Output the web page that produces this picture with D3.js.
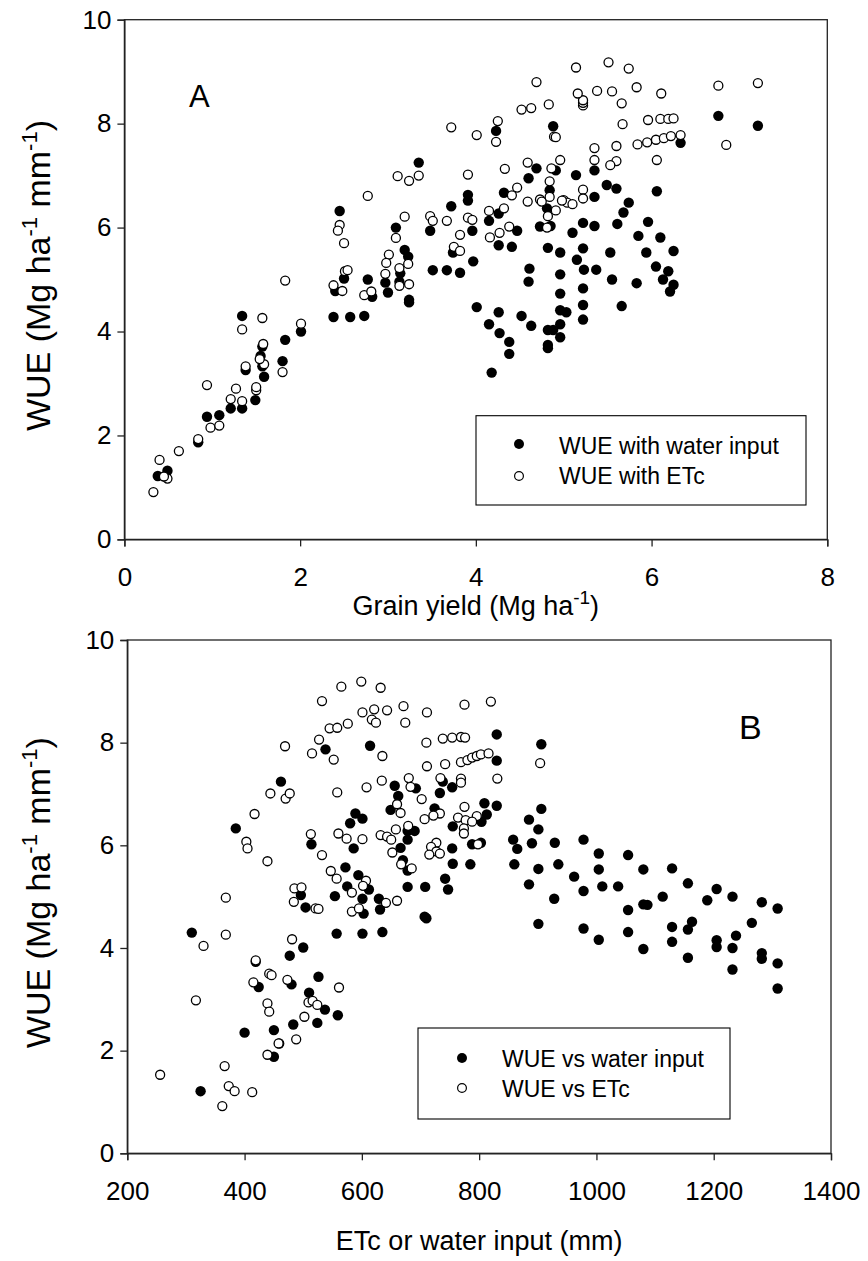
<!DOCTYPE html>
<html>
<head>
<meta charset="utf-8">
<script src="https://cdn.jsdelivr.net/npm/d3@7"></script>
<style>
  body { margin: 0; background: #fff; }
  text { font-family: "Liberation Sans", Arial, sans-serif; fill: #000; }
</style>
</head>
<body>
<script>
// ---- panel A: WUE vs grain yield (Mg ha-1) ----
var a_water_input = [
  [0.38,1.22],[0.49,1.32],[0.84,1.87],[0.94,2.36],[1.08,2.39],[1.21,2.52],[1.34,2.52],[1.34,4.30],
  [1.38,3.26],[1.49,2.68],[1.59,3.13],[1.57,3.33],[1.55,3.53],[1.57,3.71],[1.80,3.43],[1.83,3.84],
  [2.01,4.00],[2.45,6.32],[2.50,5.02],[2.40,4.78],[2.38,4.28],[2.57,4.28],
  [3.35,7.25],[3.09,6.00],[3.19,5.57],[3.23,5.44],[3.14,5.12],[3.13,4.96],[2.97,4.94],[3.00,4.75],
  [3.24,4.61],[3.24,4.56],[2.77,5.00],[2.82,4.67],[2.73,4.30],[3.51,5.18],[3.67,5.18],[3.82,5.13],
  [3.97,5.35],[3.48,5.94],[3.72,6.41],[3.74,5.52],[3.91,6.63],[3.91,6.52],[3.96,5.94],[4.01,4.47],
  [4.23,7.86],[4.15,6.13],[4.26,6.27],[4.32,6.67],[4.26,5.66],[4.47,5.94],[4.41,5.63],[4.26,4.37],
  [4.15,4.14],[4.27,3.97],[4.38,3.80],[4.38,3.57],[4.18,3.21],[4.52,4.30],[4.63,4.11],[4.61,5.21],
  [4.60,4.96],[4.60,6.95],[4.69,7.14],[4.88,7.95],[4.91,7.10],[5.14,7.01],[4.84,6.72],[4.81,6.37],
  [4.73,6.02],[4.85,6.03],[5.10,5.90],[4.82,5.61],[4.96,5.52],[4.96,5.10],[4.96,4.73],[4.96,4.41],
  [5.03,4.37],[4.96,4.14],[4.96,3.89],[4.82,4.03],[4.88,4.03],[4.82,3.74],[4.82,3.68],[5.15,5.38],
  [5.22,5.60],[5.22,6.09],[5.35,6.03],[5.35,6.59],[5.23,5.19],[5.37,5.19],[5.22,4.83],[5.22,4.51],
  [5.22,4.23],[5.35,7.10],[5.49,6.82],[5.60,6.75],[6.76,8.15],[7.21,7.96],[6.33,7.63],[6.06,6.70],
  [5.74,6.48],[5.68,6.29],[5.61,6.07],[5.96,6.11],[5.85,5.84],[6.10,5.81],[6.25,5.55],[5.94,5.52],
  [5.53,5.52],[6.05,5.25],[6.19,5.16],[6.13,5.00],[6.25,4.90],[6.21,4.77],[5.55,5.00],[5.83,4.93],
  [5.66,4.49]
];
var a_etc = [
  [0.33,0.91],[0.40,1.53],[0.49,1.17],[0.45,1.21],[0.62,1.70],[0.84,1.93],[0.98,2.15],[1.08,2.19],
  [0.94,2.97],[1.21,2.70],[1.27,2.90],[1.34,2.66],[1.34,4.04],[1.57,4.26],[1.38,3.33],[1.50,2.87],
  [1.50,2.93],[1.59,3.37],[1.54,3.47],[1.58,3.76],[1.80,3.22],[1.83,4.98],[2.01,4.15],[2.45,6.05],
  [2.43,5.94],[2.50,5.70],[2.51,5.16],[2.54,5.18],[2.38,4.89],[2.48,4.78],
  [2.77,6.61],[3.11,6.99],[3.24,6.90],[3.35,7.00],[3.19,6.21],[3.09,5.80],[3.23,5.30],[3.01,5.48],
  [2.98,5.32],[2.97,5.11],[3.13,5.22],[3.13,4.88],[3.24,4.91],[2.73,4.70],[2.81,4.77],[3.48,6.22],
  [3.51,6.13],[3.67,6.13],[3.82,5.86],[3.75,5.63],[3.82,5.55],[3.91,6.19],[3.96,6.15],[3.91,7.02],
  [3.72,7.93],[4.01,7.78],[4.25,8.05],[4.23,7.65],[4.15,6.32],[4.32,6.37],[4.47,6.77],[4.41,6.62],
  [4.33,7.13],[4.16,5.81],[4.27,5.90],[4.38,6.02],[4.59,6.50],[4.59,7.25],[4.52,8.27],[4.63,8.30],
  [4.83,8.37],[4.89,7.75],[4.91,7.74],[5.22,8.35],[5.22,8.40],[5.22,8.45],[4.96,7.30],[4.86,7.14],
  [4.84,6.89],[4.73,6.54],[4.75,6.50],[4.84,6.59],[4.82,6.22],[4.91,6.33],[4.81,6.00],[5.00,6.53],
  [5.04,6.48],[5.10,6.45],[5.22,6.73],[5.22,6.56],[5.35,7.53],[5.35,7.30],
  [5.51,9.18],[5.14,9.08],[5.74,9.06],[4.69,8.80],[5.83,8.70],[5.55,8.62],[5.38,8.63],[5.16,8.58],
  [5.66,8.39],[6.11,8.58],[6.76,8.73],[7.21,8.78],[6.85,7.59],[5.67,7.99],[5.96,8.07],[6.10,8.09],
  [6.19,8.09],[6.25,8.10],[5.84,7.60],[5.95,7.64],[6.05,7.69],[6.14,7.72],[6.22,7.76],[6.33,7.78],
  [5.60,7.57],[6.06,7.30],[5.60,7.28],[5.53,7.20],[4.98,6.52]
];

// ---- panel B: WUE vs ETc or water input (mm) ----
var b_water_input = [
  [325,1.21],[310,4.30],[400,2.35],[385,6.33],[462,7.24],[477,3.85],[500,4.01],[450,2.40],
  [450,1.88],[483,2.51],[480,3.29],[424,3.24],[510,3.13],[526,3.44],[537,2.80],[524,2.54],
  [559,2.69],[496,5.03],[504,4.79],[514,6.02],[554,5.01],[557,4.28],[572,5.57],[586,5.94],
  [580,6.43],[589,6.62],[575,5.20],[594,5.42],[419,3.73],[459,2.14],
  [538,7.87],[614,7.94],[830,8.16],[830,7.65],[830,6.77],[656,7.16],[662,6.96],[692,7.11],
  [649,6.69],[733,7.02],[754,7.13],[738,7.24],[724,6.72],[809,6.82],[813,6.60],[804,6.46],
  [755,6.37],[601,6.52],[678,6.11],[690,6.28],[678,6.28],[666,5.95],[670,5.71],[678,5.51],
  [754,5.94],[788,6.02],[803,6.05],[755,5.64],[785,5.63],[742,5.35],[747,5.14],[708,5.19],
  [678,5.19],[707,4.61],[710,4.58],[612,5.14],[601,4.96],[629,4.96],[603,4.67],[631,4.75],
  [601,4.28],[635,4.31],
  [906,7.97],[906,6.71],[885,6.50],[901,6.31],[858,6.11],[865,5.93],[890,6.04],[929,6.05],
  [978,6.11],[860,5.63],[901,5.54],[935,5.63],[885,5.24],[928,4.96],[901,4.47],[962,5.39],
  [978,5.11],[1004,5.84],[1004,5.53],[1010,5.20],[1037,5.20],[978,4.38],[1004,4.16],[1054,5.81],
  [1054,4.74],[1054,4.31],[1080,5.53],[1080,4.85],[1087,4.84],[1080,3.98],[1113,5.00],[1129,5.55],
  [1129,4.41],[1129,4.12],[1156,5.26],[1163,4.51],[1156,4.36],[1156,3.81],[1189,4.93],[1205,5.15],
  [1205,4.15],[1205,4.02],[1232,5.00],[1238,4.24],[1232,4.00],[1232,3.58],[1265,4.49],[1282,4.89],
  [1282,3.90],[1282,3.79],[1309,4.77],[1309,3.70],[1309,3.21]
];
var b_etc = [
  [256,1.53],[317,2.98],[330,4.04],[368,4.26],[368,4.98],[366,1.70],[362,0.92],[373,1.31],
  [383,1.21],[413,1.19],[403,6.07],[405,5.94],[417,6.61],[444,7.01],[470,6.91],[477,7.01],
  [558,7.03],[439,5.69],[485,5.16],[497,5.18],[484,4.90],[521,4.77],[526,4.76],[513,6.22],
  [532,5.81],[547,5.50],[557,5.35],[560,6.23],[574,6.13],[583,5.08],[583,4.71],[595,4.77],
  [481,4.17],[419,3.76],[442,3.50],[446,3.47],[415,3.33],[473,3.38],[439,2.92],[442,2.76],
  [509,2.94],[516,2.97],[524,2.89],[561,3.23],[502,2.66],[458,2.14],[488,2.22],[439,1.92],
  [599,9.19],[565,9.09],[632,9.07],[532,8.81],[601,8.59],[621,8.65],[643,8.63],[617,8.45],
  [624,8.39],[671,8.71],[674,8.39],[711,8.59],[775,8.74],[820,8.80],[545,8.28],[558,8.29],
  [576,8.37],[527,8.06],[469,7.93],[515,7.79],[552,7.67],[635,7.74],[710,8.00],[738,8.08],
  [754,8.10],[769,8.11],[776,8.10],[769,7.62],[780,7.66],[788,7.71],[796,7.74],[803,7.77],
  [816,7.79],[711,7.54],[742,7.58],[831,7.30],[769,7.30],[769,7.22],[734,7.31],[634,7.26],
  [608,7.13],[680,7.31],[683,7.14],[702,6.90],[660,6.80],[666,6.63],[775,6.75],[733,6.62],
  [722,6.58],[707,6.51],[764,6.54],[777,6.49],[796,6.57],[788,6.46],[774,6.33],[774,6.23],
  [798,6.02],[727,6.05],[718,5.97],[727,5.88],[715,5.82],[733,5.84],[679,6.38],[658,6.31],
  [632,6.20],[643,6.17],[650,6.11],[601,6.12],[652,5.86],[667,5.63],[685,5.55],[607,5.31],
  [602,5.21],[641,4.88],[660,4.92],[904,7.60]
];

var a_xticks = [0, 2, 4, 6, 8];
var b_xticks = [200, 400, 600, 800, 1000, 1200, 1400];
var yticks = [0, 2, 4, 6, 8, 10];

var width = 868, height = 1261;
var svg = d3.select('body').append('svg').attr('width', width).attr('height', height);

function panel(cfg) {
  var x = d3.scaleLinear().domain(cfg.xdom).range([cfg.left, cfg.right]);
  var y = d3.scaleLinear().domain([0, 10]).range([cfg.bottom, cfg.top]);
  var g = svg.append('g');

  // frame
  g.append('rect').attr('x', cfg.left).attr('y', cfg.top)
    .attr('width', cfg.right - cfg.left).attr('height', cfg.bottom - cfg.top)
    .attr('fill', 'none').attr('stroke', '#222').attr('stroke-width', 1.3);

  var xa = g.append('g').attr('transform', 'translate(0,' + cfg.bottom + ')')
    .call(d3.axisBottom(x).tickValues(cfg.xticks).tickSize(7).tickPadding(21).tickFormat(d3.format('d')));
  var ya = g.append('g').attr('transform', 'translate(' + cfg.left + ',0)')
    .call(d3.axisLeft(y).tickValues(yticks).tickSize(7).tickPadding(6).tickFormat(d3.format('d')));
  [xa, ya].forEach(function(a) {
    a.select('.domain').attr('stroke', '#222').attr('stroke-width', 1.3);
    a.selectAll('.tick line').attr('stroke', '#222').attr('stroke-width', 1.3);
    a.selectAll('.tick text').attr('font-size', 26).attr('font-family', '"Liberation Sans", Arial, sans-serif').attr('fill', '#000');
  });

  // points: filled first, open on top
  g.append('g').selectAll('circle').data(cfg.filled).enter().append('circle')
    .attr('cx', function(d) { return x(d[0]); }).attr('cy', function(d) { return y(d[1]); })
    .attr('r', 5.2).attr('fill', '#000');
  g.append('g').selectAll('circle').data(cfg.open).enter().append('circle')
    .attr('cx', function(d) { return x(d[0]); }).attr('cy', function(d) { return y(d[1]); })
    .attr('r', 4.5).attr('fill', '#fff').attr('stroke', '#000').attr('stroke-width', 1.3);

  // panel letter
  g.append('text').attr('x', cfg.letter[0]).attr('y', cfg.letter[1])
    .attr('font-size', cfg.letter[2]).text(cfg.name);

  // legend
  var L = cfg.legend;
  g.append('rect').attr('x', L.x0).attr('y', L.y0).attr('width', L.x1 - L.x0).attr('height', L.y1 - L.y0)
    .attr('fill', '#fff').attr('stroke', '#000').attr('stroke-width', 1.1);
  g.append('circle').attr('cx', L.sx).attr('cy', L.sy[0]).attr('r', 5).attr('fill', '#000');
  g.append('circle').attr('cx', L.sx).attr('cy', L.sy[1]).attr('r', 4.4)
    .attr('fill', '#fff').attr('stroke', '#000').attr('stroke-width', 1.2);
  g.append('text').attr('x', L.tx).attr('y', L.ty[0]).attr('font-size', 23).text(L.labels[0]);
  g.append('text').attr('x', L.tx).attr('y', L.ty[1]).attr('font-size', 23).text(L.labels[1]);

  // y title
  var yt = g.append('text')
    .attr('transform', 'translate(' + cfg.ytitleX + ',' + ((cfg.top + cfg.bottom) / 2 - 4) + ') rotate(-90)')
    .attr('text-anchor', 'middle').attr('font-size', 34);
  yt.append('tspan').text('WUE (Mg ha');
  yt.append('tspan').attr('font-size', 22).attr('dy', -13).text('-1');
  yt.append('tspan').attr('dy', 13).text(' mm');
  yt.append('tspan').attr('font-size', 22).attr('dy', -13).text('-1');
  yt.append('tspan').attr('dy', 13).text(')');

  // x title
  var xt = g.append('text').attr('x', (cfg.left + cfg.right) / 2).attr('y', cfg.xtitleY)
    .attr('text-anchor', 'middle').attr('font-size', 27);
  cfg.xtitle(xt);
}

panel({
  name: 'A', xdom: [0, 8], xticks: a_xticks,
  left: 124.4, right: 827.3, top: 19.7, bottom: 539.4,
  filled: a_water_input, open: a_etc,
  letter: [189, 107, 31],
  legend: { x0: 476, x1: 806, y0: 415.7, y1: 505, sx: 519, sy: [444, 476], tx: 559, ty: [454, 484],
            labels: ['WUE with water input', 'WUE with ETc'] },
  ytitleX: 50, xtitleY: 615,
  xtitle: function(t) {
    t.append('tspan').text('Grain yield (Mg ha');
    t.append('tspan').attr('font-size', 19).attr('dy', -11).text('-1');
    t.append('tspan').attr('dy', 11).text(')');
  }
});

panel({
  name: 'B', xdom: [200, 1400], xticks: b_xticks,
  left: 127.3, right: 831, top: 640, bottom: 1153.3,
  filled: b_water_input, open: b_etc,
  letter: [739, 739, 34],
  legend: { x0: 418, x1: 730, y0: 1028, y1: 1119, sx: 462, sy: [1058, 1088], tx: 502, ty: [1067, 1097],
            labels: ['WUE vs water input', 'WUE vs ETc'] },
  ytitleX: 50, xtitleY: 1250,
  xtitle: function(t) { t.text('ETc or water input (mm)'); }
});
</script>
</body>
</html>
